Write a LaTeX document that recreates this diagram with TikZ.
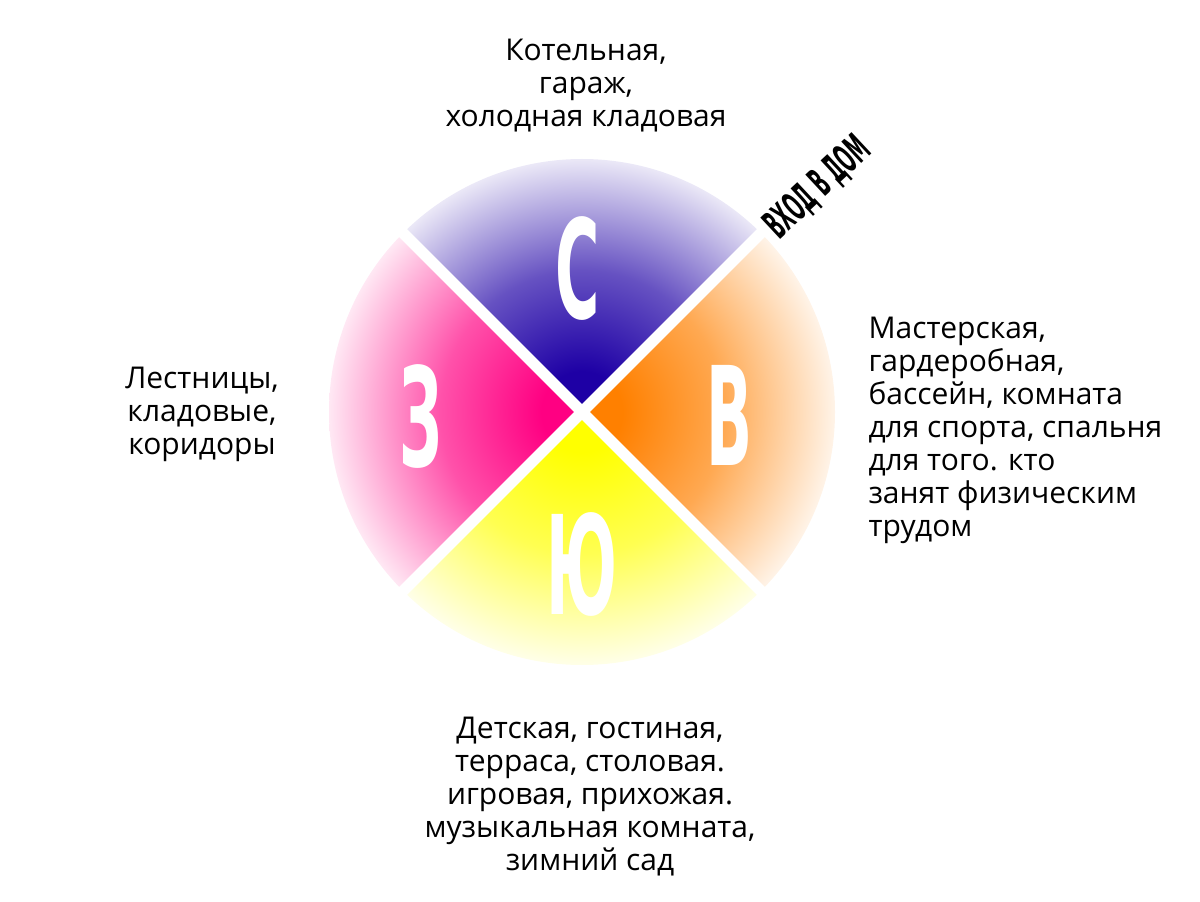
\documentclass[tikz,border=0pt]{standalone}
\usepackage{fontspec}
\setmainfont{Open Sans}
\newfontfamily\compassfont{DejaVu Sans}[FakeStretch=0.44]
\newfontfamily\doorfont{DejaVu Sans}[FakeStretch=0.43]

\definecolor{northblue}{RGB}{30,0,165}
\definecolor{eastorange}{RGB}{255,128,0}
\definecolor{southyellow}{RGB}{255,255,0}
\definecolor{westpink}{RGB}{255,0,130}
\colorlet{sectorcolor}{northblue}

% full colour near the centre, fading to white at the rim
\pgfdeclareradialshading[sectorcolor]{sectorfade}{\pgfpoint{0bp}{0bp}}{%
  color(0bp)=(sectorcolor); color(4bp)=(sectorcolor);
  color(14bp)=(sectorcolor!68!white); color(25bp)=(sectorcolor!9!white);
  color(50bp)=(sectorcolor!9!white)}

\tikzset{every picture/.style={line width=0.75pt}}
\tikzset{
  sector/.style={/utils/exec={\colorlet{sectorcolor}{#1}}, shading=sectorfade},
  gap/.style={draw=white, line width=8.25pt},
  bigletter/.style={text=white, inner sep=0pt, font=\compassfont\bfseries\fontsize{103}{103}\selectfont},
  doortext/.style={inner sep=0pt, font=\doorfont\bfseries\fontsize{30}{30}\selectfont},
  roomtext/.style={inner sep=0pt, font=\fontsize{22.5}{24.75}\selectfont},
}

\begin{document}
\begin{tikzpicture}[x=0.75pt,y=0.75pt,yscale=-1,xscale=1]
\useasboundingbox (0,0) rectangle (1200,902);
\coordinate (c) at (582,412);

%Shape: North sector
\begin{scope}
\clip (c) -- (182,12) -- (982,12) -- cycle;
\shade[sector=northblue] (c) circle (253);
\end{scope}
%Shape: East sector
\begin{scope}
\clip (c) -- (982,12) -- (982,812) -- cycle;
\shade[sector=eastorange] (c) circle (253);
\end{scope}
%Shape: South sector
\begin{scope}
\clip (c) -- (982,812) -- (182,812) -- cycle;
\shade[sector=southyellow] (c) circle (253);
\end{scope}
%Shape: West sector
\begin{scope}
\clip (c) -- (182,812) -- (182,12) -- cycle;
\shade[sector=westpink] (c) circle (253);
\end{scope}

%Straight Lines: gaps between sectors
\draw [gap] (c) +(-185,-185) -- +(185,185) ;
\draw [gap] (c) +(185,-185) -- +(-185,185) ;

% Text Node
\node [bigletter] (north) at (578,269) {С};
% Text Node
\node [bigletter] (east) at (730,415) {В};
% Text Node
\node [bigletter] (south) at (582,565) {Ю};
% Text Node
\node [bigletter] (west) at (421,417) {З};
% Text Node
\node [doortext, rotate=43] (entrance) at (818,188) {ВХОД В ДОМ};

% Text Node
\node [roomtext, align=center, anchor=north] (northrooms) at (586,39) {Котельная,\\гараж,\\холодная кладовая};
% Text Node
\node [roomtext, align=left, anchor=north west] (eastrooms) at (868,317) {Мастерская,\\гардеробная,\\бассейн, комната\\для спорта, спальня\\для того. кто\\занят физическим\\трудом};
% Text Node
\node [roomtext, align=center, anchor=north] (southrooms) at (590,717) {Детская, гостиная,\\терраса, столовая.\\игровая, прихожая.\\музыкальная комната,\\зимний сад};
% Text Node
\node [roomtext, align=center, anchor=north] (westrooms) at (202,367) {Лестницы,\\кладовые,\\коридоры};

\end{tikzpicture}
\end{document}
